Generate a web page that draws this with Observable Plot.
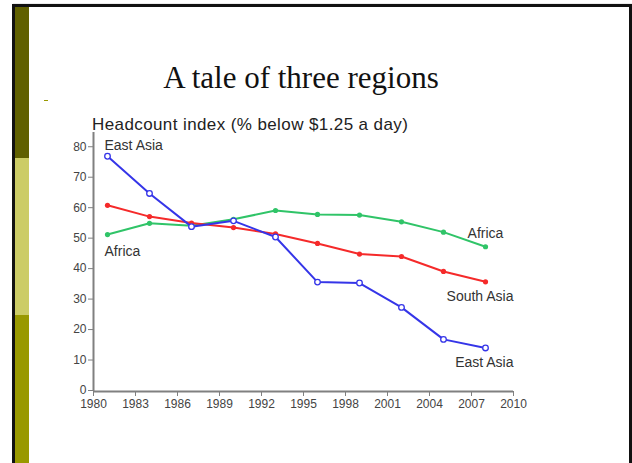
<!DOCTYPE html>
<html>
<head>
<meta charset="utf-8">
<script src="https://cdn.jsdelivr.net/npm/d3@7"></script>
<script src="https://cdn.jsdelivr.net/npm/@observablehq/plot@0.6"></script>
<style>
  html, body { margin: 0; padding: 0; background: #fff; width: 632px; height: 463px; overflow: hidden; }
  #frame { position: absolute; left: 12px; top: 4px; width: 614px; height: 470px; border: 3px solid #111; border-bottom: none; box-shadow: 1px 0 1px #888; }
  .bar { position: absolute; left: 15px; width: 14px; }
  #title { position: absolute; left: 0; width: 602px; top: 60px; text-align: center; font-family: "Liberation Serif", "Times New Roman", serif; font-size: 31px; color: #111; }
  #subtitle { position: absolute; left: 92px; top: 115px; font-family: "Liberation Sans", Arial, sans-serif; font-size: 17px; color: #222; letter-spacing: 0.4px; }
  #dash { position: absolute; left: 44px; top: 100px; width: 4px; height: 1px; background: #999900; }
  #chart { position: absolute; left: 0; top: 125px; }
</style>
</head>
<body>
<div id="frame"></div>
<div class="bar" style="top:7px;height:151px;background:#606000"></div>
<div class="bar" style="top:158px;height:157px;background:#cccc66"></div>
<div class="bar" style="top:315px;height:160px;background:#999900"></div>
<div id="dash"></div>
<div id="title">A tale of three regions</div>
<div id="subtitle">Headcount index (% below $1.25 a day)</div>
<div id="chart"></div>
<script>
const years = [1981, 1984, 1987, 1990, 1993, 1996, 1999, 2002, 2005, 2008];
const eastAsia  = [77.2, 65.0, 54.1, 56.0, 50.7, 35.9, 35.6, 27.6, 17.1, 14.3];
const southAsia = [61.1, 57.4, 55.3, 53.8, 51.7, 48.6, 45.1, 44.3, 39.4, 36.0];
const africa    = [51.5, 55.2, 54.4, 56.5, 59.4, 58.1, 57.9, 55.7, 52.3, 47.5];
const xTicks = [1980, 1983, 1986, 1989, 1992, 1995, 1998, 2001, 2004, 2007, 2010];
const yTicks = [0, 10, 20, 30, 40, 50, 60, 70, 80];

const colors = {"East Asia": "#3535e8", "South Asia": "#f52a2a", "Africa": "#30c468"};
const seriesList = [["Africa", africa], ["South Asia", southAsia], ["East Asia", eastAsia]];
const rows = seriesList.flatMap(([name, vals]) => years.map((year, i) => ({name, year, value: vals[i]})));
const first = name => rows.find(d => d.name === name);
const last = name => rows.filter(d => d.name === name).at(-1);

const labels = [
  {...first("East Asia"), text: "East Asia", anchor: "start", dx: -3, dy: -11},
  {...first("Africa"), text: "Africa", anchor: "start", dx: -3, dy: 17},
  {...last("Africa"), text: "Africa", anchor: "middle", dx: 0, dy: -13},
  {...last("South Asia"), text: "South Asia", anchor: "end", dx: 28, dy: 15},
  {...last("East Asia"), text: "East Asia", anchor: "end", dx: 28, dy: 15}
];

const font = "'Liberation Sans', Arial, sans-serif";
const axisColor = "#808080";

const plot = Plot.plot({
  width: 632,
  height: 300,
  marginLeft: 93,
  marginRight: 119,
  marginTop: 7,
  marginBottom: 34,
  style: {fontFamily: font, fontSize: "12px", color: "#444", background: "transparent", overflow: "visible"},
  x: {domain: [1980, 2010]},
  y: {domain: [0, 85]},
  marks: [
    Plot.axisX({ticks: xTicks, tickFormat: d => String(d), tickSize: 5, tickPadding: 3, stroke: axisColor, fill: "#444", label: null, fontSize: 12}),
    Plot.axisY({ticks: yTicks, tickSize: 5, tickPadding: 2, stroke: axisColor, fill: "#444", label: null, fontSize: 12, dy: -1}),
    Plot.ruleX([1980], {y1: 0, y2: 85, stroke: axisColor, strokeWidth: 2}),
    Plot.ruleY([0], {x1: 1980, x2: 2010, stroke: axisColor, strokeWidth: 2}),
    Plot.line(rows, {x: "year", y: "value", z: "name", stroke: d => colors[d.name], strokeWidth: 2}),
    Plot.dot(rows.filter(d => d.name !== "East Asia"), {x: "year", y: "value", r: 2.6, fill: d => colors[d.name], stroke: "none"}),
    Plot.dot(rows.filter(d => d.name === "East Asia"), {x: "year", y: "value", r: 2.8, fill: "#fff", stroke: d => colors[d.name], strokeWidth: 1.3}),
    ...labels.map(l => Plot.text([l], {x: "year", y: "value", text: "text", textAnchor: l.anchor, dx: l.dx, dy: l.dy, fontSize: 14, fill: "#333", fontFamily: font}))
  ]
});
document.getElementById("chart").appendChild(plot);
</script>
</body>
</html>
